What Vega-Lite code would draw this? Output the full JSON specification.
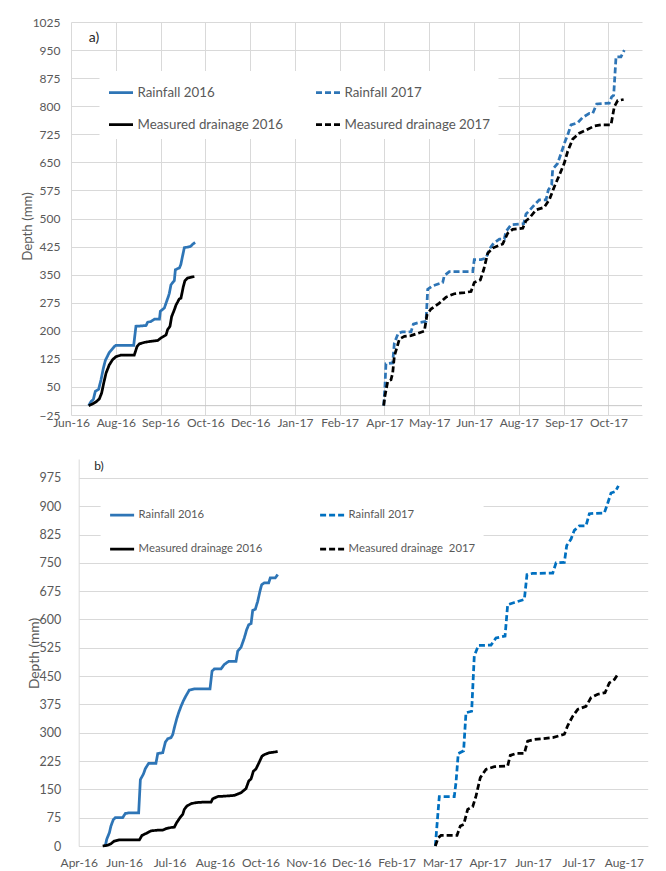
{
  "$schema": "https://vega.github.io/schema/vega-lite/v6.json",
  "padding": {"left": 20, "top": 16, "right": 5, "bottom": 2},
  "config": {
    "view": {"stroke": null},
    "font": "Lato",
    "axis": {"labelFont": "Lato", "labelColor": "#595959", "labelFontSize": 12, "titleFont": "Lato", "titleColor": "#595959", "titleFontWeight": "normal", "gridColor": "#D9D9D9", "gridWidth": 1, "ticks": false, "domainColor": "#D9D9D9", "labelFlush": false, "labelOverlap": false, "tickCount": 40},
    "legend": {"labelFont": "Lato", "labelColor": "#595959"}
  },
  "datasets": {
    "a": [
      {"series":"Rainfall 2016","day":194.8,"depth":0},{"series":"Rainfall 2016","day":196.9,"depth":11},{"series":"Rainfall 2016","day":199,"depth":17},{"series":"Rainfall 2016","day":200.7,"depth":38},{"series":"Rainfall 2016","day":203.7,"depth":44},{"series":"Rainfall 2016","day":205.8,"depth":69},{"series":"Rainfall 2016","day":207.9,"depth":100},{"series":"Rainfall 2016","day":209.7,"depth":121},{"series":"Rainfall 2016","day":213.2,"depth":142},{"series":"Rainfall 2016","day":217.7,"depth":158},{"series":"Rainfall 2016","day":219,"depth":161},{"series":"Rainfall 2016","day":235,"depth":161},{"series":"Rainfall 2016","day":237,"depth":212},{"series":"Rainfall 2016","day":241.5,"depth":213},{"series":"Rainfall 2016","day":246,"depth":214},{"series":"Rainfall 2016","day":247.5,"depth":223},{"series":"Rainfall 2016","day":250.5,"depth":225},{"series":"Rainfall 2016","day":253.5,"depth":231},{"series":"Rainfall 2016","day":258,"depth":231},{"series":"Rainfall 2016","day":258.8,"depth":252},{"series":"Rainfall 2016","day":262.4,"depth":261},{"series":"Rainfall 2016","day":263.9,"depth":274},{"series":"Rainfall 2016","day":266,"depth":292},{"series":"Rainfall 2016","day":266.8,"depth":300},{"series":"Rainfall 2016","day":268.3,"depth":323},{"series":"Rainfall 2016","day":271.3,"depth":334},{"series":"Rainfall 2016","day":272.2,"depth":363},{"series":"Rainfall 2016","day":275.8,"depth":368},{"series":"Rainfall 2016","day":277,"depth":376},{"series":"Rainfall 2016","day":280.2,"depth":422},{"series":"Rainfall 2016","day":285.6,"depth":425},{"series":"Rainfall 2016","day":287.6,"depth":431},{"series":"Rainfall 2016","day":289.8,"depth":436},
      {"series":"Measured drainage 2016","day":194.8,"depth":0},{"series":"Measured drainage 2016","day":198.4,"depth":5},{"series":"Measured drainage 2016","day":201.3,"depth":10},{"series":"Measured drainage 2016","day":204.3,"depth":18},{"series":"Measured drainage 2016","day":206.4,"depth":34},{"series":"Measured drainage 2016","day":208.2,"depth":60},{"series":"Measured drainage 2016","day":210.3,"depth":87},{"series":"Measured drainage 2016","day":213.2,"depth":109},{"series":"Measured drainage 2016","day":216.2,"depth":123},{"series":"Measured drainage 2016","day":219.2,"depth":131},{"series":"Measured drainage 2016","day":223.7,"depth":135},{"series":"Measured drainage 2016","day":235.5,"depth":135},{"series":"Measured drainage 2016","day":238,"depth":158},{"series":"Measured drainage 2016","day":240,"depth":165},{"series":"Measured drainage 2016","day":244.5,"depth":169},{"series":"Measured drainage 2016","day":250.5,"depth":172},{"series":"Measured drainage 2016","day":256.4,"depth":174},{"series":"Measured drainage 2016","day":259.4,"depth":181},{"series":"Measured drainage 2016","day":263.9,"depth":189},{"series":"Measured drainage 2016","day":265.3,"depth":203},{"series":"Measured drainage 2016","day":267.4,"depth":212},{"series":"Measured drainage 2016","day":268.9,"depth":238},{"series":"Measured drainage 2016","day":271.3,"depth":256},{"series":"Measured drainage 2016","day":272.8,"depth":269},{"series":"Measured drainage 2016","day":275.7,"depth":285},{"series":"Measured drainage 2016","day":277.2,"depth":287},{"series":"Measured drainage 2016","day":279.3,"depth":318},{"series":"Measured drainage 2016","day":280.8,"depth":334},{"series":"Measured drainage 2016","day":283.2,"depth":341},{"series":"Measured drainage 2016","day":289.2,"depth":345},
      {"series":"Rainfall 2017","day":458.3,"depth":0},{"series":"Rainfall 2017","day":459.4,"depth":51},{"series":"Rainfall 2017","day":460.3,"depth":112},{"series":"Rainfall 2017","day":466.3,"depth":114},{"series":"Rainfall 2017","day":467.8,"depth":167},{"series":"Rainfall 2017","day":471.3,"depth":194},{"series":"Rainfall 2017","day":475,"depth":197},{"series":"Rainfall 2017","day":482.7,"depth":197},{"series":"Rainfall 2017","day":484.8,"depth":218},{"series":"Rainfall 2017","day":490,"depth":222},{"series":"Rainfall 2017","day":496.1,"depth":225},{"series":"Rainfall 2017","day":497.6,"depth":311},{"series":"Rainfall 2017","day":502,"depth":320},{"series":"Rainfall 2017","day":511,"depth":329},{"series":"Rainfall 2017","day":512.4,"depth":347},{"series":"Rainfall 2017","day":516.9,"depth":358},{"series":"Rainfall 2017","day":537.8,"depth":358},{"series":"Rainfall 2017","day":539.2,"depth":390},{"series":"Rainfall 2017","day":545.2,"depth":390},{"series":"Rainfall 2017","day":549.7,"depth":394},{"series":"Rainfall 2017","day":552.6,"depth":418},{"series":"Rainfall 2017","day":556.5,"depth":434},{"series":"Rainfall 2017","day":561.6,"depth":445},{"series":"Rainfall 2017","day":566,"depth":445},{"series":"Rainfall 2017","day":567.5,"depth":465},{"series":"Rainfall 2017","day":572,"depth":483},{"series":"Rainfall 2017","day":579.5,"depth":485},{"series":"Rainfall 2017","day":583.3,"depth":486},{"series":"Rainfall 2017","day":585.4,"depth":512},{"series":"Rainfall 2017","day":588.4,"depth":521},{"series":"Rainfall 2017","day":592.8,"depth":536},{"series":"Rainfall 2017","day":597.3,"depth":550},{"series":"Rainfall 2017","day":603.3,"depth":550},{"series":"Rainfall 2017","day":605.3,"depth":576},{"series":"Rainfall 2017","day":608.3,"depth":590},{"series":"Rainfall 2017","day":609.2,"depth":631},{"series":"Rainfall 2017","day":613.6,"depth":647},{"series":"Rainfall 2017","day":617.3,"depth":679},{"series":"Rainfall 2017","day":620.2,"depth":705},{"series":"Rainfall 2017","day":622.6,"depth":723},{"series":"Rainfall 2017","day":625.6,"depth":750},{"series":"Rainfall 2017","day":631.6,"depth":756},{"series":"Rainfall 2017","day":636,"depth":770},{"series":"Rainfall 2017","day":642,"depth":781},{"series":"Rainfall 2017","day":645,"depth":781},{"series":"Rainfall 2017","day":648.5,"depth":806},{"series":"Rainfall 2017","day":659.8,"depth":808},{"series":"Rainfall 2017","day":661.9,"depth":825},{"series":"Rainfall 2017","day":663.7,"depth":829},{"series":"Rainfall 2017","day":665.8,"depth":932},{"series":"Rainfall 2017","day":670.2,"depth":932},{"series":"Rainfall 2017","day":673.2,"depth":950},
      {"series":"Measured drainage 2017","day":458.3,"depth":0},{"series":"Measured drainage 2017","day":459.4,"depth":26},{"series":"Measured drainage 2017","day":461.9,"depth":65},{"series":"Measured drainage 2017","day":464.8,"depth":69},{"series":"Measured drainage 2017","day":466.3,"depth":87},{"series":"Measured drainage 2017","day":467.8,"depth":132},{"series":"Measured drainage 2017","day":472.3,"depth":178},{"series":"Measured drainage 2017","day":476.8,"depth":185},{"series":"Measured drainage 2017","day":482.7,"depth":187},{"series":"Measured drainage 2017","day":491.6,"depth":196},{"series":"Measured drainage 2017","day":494.6,"depth":199},{"series":"Measured drainage 2017","day":497,"depth":243},{"series":"Measured drainage 2017","day":500.5,"depth":258},{"series":"Measured drainage 2017","day":508,"depth":274},{"series":"Measured drainage 2017","day":514,"depth":290},{"series":"Measured drainage 2017","day":521.4,"depth":299},{"series":"Measured drainage 2017","day":530.4,"depth":302},{"series":"Measured drainage 2017","day":536.3,"depth":305},{"series":"Measured drainage 2017","day":539.2,"depth":329},{"series":"Measured drainage 2017","day":544.6,"depth":336},{"series":"Measured drainage 2017","day":547.6,"depth":363},{"series":"Measured drainage 2017","day":551.2,"depth":407},{"series":"Measured drainage 2017","day":555.6,"depth":421},{"series":"Measured drainage 2017","day":564.6,"depth":432},{"series":"Measured drainage 2017","day":569.1,"depth":461},{"series":"Measured drainage 2017","day":573.5,"depth":471},{"series":"Measured drainage 2017","day":582.5,"depth":474},{"series":"Measured drainage 2017","day":585.4,"depth":494},{"series":"Measured drainage 2017","day":588.4,"depth":501},{"series":"Measured drainage 2017","day":594.3,"depth":523},{"series":"Measured drainage 2017","day":601.7,"depth":530},{"series":"Measured drainage 2017","day":606.2,"depth":550},{"series":"Measured drainage 2017","day":610.7,"depth":585},{"series":"Measured drainage 2017","day":615.2,"depth":616},{"series":"Measured drainage 2017","day":619.6,"depth":648},{"series":"Measured drainage 2017","day":622.6,"depth":679},{"series":"Measured drainage 2017","day":627.1,"depth":712},{"series":"Measured drainage 2017","day":633,"depth":728},{"series":"Measured drainage 2017","day":639,"depth":736},{"series":"Measured drainage 2017","day":646.4,"depth":747},{"series":"Measured drainage 2017","day":652.4,"depth":750},{"series":"Measured drainage 2017","day":661.3,"depth":750},{"series":"Measured drainage 2017","day":664.3,"depth":799},{"series":"Measured drainage 2017","day":667.3,"depth":815},{"series":"Measured drainage 2017","day":672.6,"depth":818}
    ],
    "b": [
      {"series":"Rainfall 2016","day":141.4,"depth":0},{"series":"Rainfall 2016","day":142.7,"depth":18},{"series":"Rainfall 2016","day":145,"depth":35},{"series":"Rainfall 2016","day":146.4,"depth":53},{"series":"Rainfall 2016","day":148.5,"depth":70},{"series":"Rainfall 2016","day":150.2,"depth":75},{"series":"Rainfall 2016","day":156.7,"depth":75},{"series":"Rainfall 2016","day":159,"depth":86},{"series":"Rainfall 2016","day":162.5,"depth":88},{"series":"Rainfall 2016","day":170.8,"depth":88},{"series":"Rainfall 2016","day":172.3,"depth":176},{"series":"Rainfall 2016","day":174.9,"depth":190},{"series":"Rainfall 2016","day":176.7,"depth":205},{"series":"Rainfall 2016","day":179.6,"depth":219},{"series":"Rainfall 2016","day":186,"depth":219},{"series":"Rainfall 2016","day":187.6,"depth":245},{"series":"Rainfall 2016","day":192,"depth":247},{"series":"Rainfall 2016","day":194.3,"depth":275},{"series":"Rainfall 2016","day":196.4,"depth":284},{"series":"Rainfall 2016","day":199.3,"depth":287},{"series":"Rainfall 2016","day":200.8,"depth":295},{"series":"Rainfall 2016","day":202.2,"depth":313},{"series":"Rainfall 2016","day":204.3,"depth":337},{"series":"Rainfall 2016","day":206,"depth":353},{"series":"Rainfall 2016","day":208.1,"depth":370},{"series":"Rainfall 2016","day":210.4,"depth":386},{"series":"Rainfall 2016","day":212.5,"depth":398},{"series":"Rainfall 2016","day":215.4,"depth":413},{"series":"Rainfall 2016","day":219.8,"depth":416},{"series":"Rainfall 2016","day":233.6,"depth":416},{"series":"Rainfall 2016","day":235.4,"depth":463},{"series":"Rainfall 2016","day":237.4,"depth":469},{"series":"Rainfall 2016","day":243.3,"depth":469},{"series":"Rainfall 2016","day":246.2,"depth":481},{"series":"Rainfall 2016","day":250.1,"depth":489},{"series":"Rainfall 2016","day":256.5,"depth":489},{"series":"Rainfall 2016","day":258,"depth":516},{"series":"Rainfall 2016","day":261,"depth":527},{"series":"Rainfall 2016","day":263.8,"depth":551},{"series":"Rainfall 2016","day":265.9,"depth":573},{"series":"Rainfall 2016","day":267.7,"depth":586},{"series":"Rainfall 2016","day":269.8,"depth":589},{"series":"Rainfall 2016","day":271.2,"depth":624},{"series":"Rainfall 2016","day":273.5,"depth":627},{"series":"Rainfall 2016","day":275.6,"depth":648},{"series":"Rainfall 2016","day":277.6,"depth":675},{"series":"Rainfall 2016","day":279.1,"depth":692},{"series":"Rainfall 2016","day":281.4,"depth":697},{"series":"Rainfall 2016","day":285.3,"depth":697},{"series":"Rainfall 2016","day":286.7,"depth":710},{"series":"Rainfall 2016","day":291.1,"depth":710},{"series":"Rainfall 2016","day":293.2,"depth":719},
      {"series":"Measured drainage 2016","day":139.1,"depth":0},{"series":"Measured drainage 2016","day":143.5,"depth":2},{"series":"Measured drainage 2016","day":146.4,"depth":6},{"series":"Measured drainage 2016","day":149.3,"depth":13},{"series":"Measured drainage 2016","day":153.7,"depth":16},{"series":"Measured drainage 2016","day":171.4,"depth":16},{"series":"Measured drainage 2016","day":173.7,"depth":28},{"series":"Measured drainage 2016","day":177.2,"depth":33},{"series":"Measured drainage 2016","day":181.7,"depth":40},{"series":"Measured drainage 2016","day":187.6,"depth":42},{"series":"Measured drainage 2016","day":192,"depth":42},{"series":"Measured drainage 2016","day":194.9,"depth":46},{"series":"Measured drainage 2016","day":199.3,"depth":49},{"series":"Measured drainage 2016","day":202.2,"depth":50},{"series":"Measured drainage 2016","day":204.3,"depth":62},{"series":"Measured drainage 2016","day":207.2,"depth":75},{"series":"Measured drainage 2016","day":209.6,"depth":84},{"series":"Measured drainage 2016","day":211,"depth":97},{"series":"Measured drainage 2016","day":213.3,"depth":106},{"series":"Measured drainage 2016","day":216.9,"depth":112},{"series":"Measured drainage 2016","day":221.3,"depth":115},{"series":"Measured drainage 2016","day":227.2,"depth":116},{"series":"Measured drainage 2016","day":234.5,"depth":116},{"series":"Measured drainage 2016","day":236,"depth":125},{"series":"Measured drainage 2016","day":240.4,"depth":131},{"series":"Measured drainage 2016","day":246.2,"depth":132},{"series":"Measured drainage 2016","day":255,"depth":134},{"series":"Measured drainage 2016","day":260.9,"depth":141},{"series":"Measured drainage 2016","day":265.3,"depth":152},{"series":"Measured drainage 2016","day":267.7,"depth":172},{"series":"Measured drainage 2016","day":269.8,"depth":178},{"series":"Measured drainage 2016","day":271.8,"depth":198},{"series":"Measured drainage 2016","day":274.1,"depth":204},{"series":"Measured drainage 2016","day":276.5,"depth":219},{"series":"Measured drainage 2016","day":279.4,"depth":238},{"series":"Measured drainage 2016","day":281.4,"depth":242},{"series":"Measured drainage 2016","day":285.8,"depth":247},{"series":"Measured drainage 2016","day":293.2,"depth":250},
      {"series":"Rainfall 2017","day":432,"depth":0},{"series":"Rainfall 2017","day":434.1,"depth":79},{"series":"Rainfall 2017","day":435.5,"depth":131},{"series":"Rainfall 2017","day":448.7,"depth":131},{"series":"Rainfall 2017","day":450.2,"depth":168},{"series":"Rainfall 2017","day":452.2,"depth":245},{"series":"Rainfall 2017","day":456.9,"depth":252},{"series":"Rainfall 2017","day":459,"depth":353},{"series":"Rainfall 2017","day":464,"depth":357},{"series":"Rainfall 2017","day":466.3,"depth":503},{"series":"Rainfall 2017","day":469.9,"depth":531},{"series":"Rainfall 2017","day":481,"depth":532},{"series":"Rainfall 2017","day":485.4,"depth":551},{"series":"Rainfall 2017","day":493.4,"depth":556},{"series":"Rainfall 2017","day":495.7,"depth":639},{"series":"Rainfall 2017","day":501.6,"depth":645},{"series":"Rainfall 2017","day":510.4,"depth":653},{"series":"Rainfall 2017","day":512.7,"depth":719},{"series":"Rainfall 2017","day":517.7,"depth":722},{"series":"Rainfall 2017","day":535.4,"depth":723},{"series":"Rainfall 2017","day":538.3,"depth":750},{"series":"Rainfall 2017","day":545.6,"depth":751},{"series":"Rainfall 2017","day":547.7,"depth":796},{"series":"Rainfall 2017","day":551.5,"depth":813},{"series":"Rainfall 2017","day":554.4,"depth":836},{"series":"Rainfall 2017","day":558.8,"depth":848},{"series":"Rainfall 2017","day":564.7,"depth":848},{"series":"Rainfall 2017","day":567.6,"depth":880},{"series":"Rainfall 2017","day":572,"depth":881},{"series":"Rainfall 2017","day":580.8,"depth":882},{"series":"Rainfall 2017","day":583.8,"depth":908},{"series":"Rainfall 2017","day":586.7,"depth":935},{"series":"Rainfall 2017","day":590.5,"depth":939},{"series":"Rainfall 2017","day":593.2,"depth":954},
      {"series":"Measured drainage 2017","day":432,"depth":0},{"series":"Measured drainage 2017","day":434.6,"depth":22},{"series":"Measured drainage 2017","day":437,"depth":28},{"series":"Measured drainage 2017","day":451.1,"depth":28},{"series":"Measured drainage 2017","day":454,"depth":53},{"series":"Measured drainage 2017","day":457,"depth":57},{"series":"Measured drainage 2017","day":460.5,"depth":97},{"series":"Measured drainage 2017","day":464.9,"depth":104},{"series":"Measured drainage 2017","day":467.8,"depth":132},{"series":"Measured drainage 2017","day":471.6,"depth":181},{"series":"Measured drainage 2017","day":476.6,"depth":203},{"series":"Measured drainage 2017","day":484,"depth":210},{"series":"Measured drainage 2017","day":495.7,"depth":212},{"series":"Measured drainage 2017","day":498,"depth":240},{"series":"Measured drainage 2017","day":503,"depth":245},{"series":"Measured drainage 2017","day":510.4,"depth":245},{"series":"Measured drainage 2017","day":513.3,"depth":278},{"series":"Measured drainage 2017","day":519.2,"depth":282},{"series":"Measured drainage 2017","day":535.4,"depth":287},{"series":"Measured drainage 2017","day":545.6,"depth":296},{"series":"Measured drainage 2017","day":548.6,"depth":319},{"series":"Measured drainage 2017","day":553,"depth":344},{"series":"Measured drainage 2017","day":557.4,"depth":362},{"series":"Measured drainage 2017","day":564.7,"depth":370},{"series":"Measured drainage 2017","day":569.1,"depth":393},{"series":"Measured drainage 2017","day":575,"depth":402},{"series":"Measured drainage 2017","day":581.4,"depth":406},{"series":"Measured drainage 2017","day":585.2,"depth":432},{"series":"Measured drainage 2017","day":589.7,"depth":441},{"series":"Measured drainage 2017","day":593.2,"depth":457}
    ]
  },
  "bounds": "flush",
  "spacing": 44,
  "resolve": {"scale": {"x": "independent", "y": "independent", "color": "independent", "strokeDash": "independent"}, "legend": {"color": "independent", "strokeDash": "independent"}},
  "vconcat": [
    {
      "width": 571,
      "height": 393,
      "data": {"name": "a"},
      "layer": [
        {
          "data": {"values": [{}]},
          "mark": {"type": "rule", "color": "#C6C6C6", "strokeWidth": 1},
          "encoding": {"y": {"datum": 0}}
        },
        {
          "mark": {"type": "line", "strokeWidth": 2.75},
          "encoding": {
            "x": {"field": "day", "type": "quantitative", "scale": {"domain": [179, 689], "nice": false, "zero": false},
              "axis": {"values": [179, 219, 259, 299, 339, 379, 419, 459, 499, 539, 579, 619, 659], "tickCount": 40, "labelExpr": "timeFormat(datetime(2016, 0, 1 + datum.value), '%b-%y')", "grid": true, "domain": false, "title": null, "labelPadding": 2, "labelOverlap": false}},
            "y": {"field": "depth", "type": "quantitative", "scale": {"domain": [-25, 1025], "nice": false, "zero": false},
              "axis": {"values": [-25, 50, 125, 200, 275, 350, 425, 500, 575, 650, 725, 800, 875, 950, 1025], "tickCount": 40, "format": "d", "grid": true, "domain": false, "labelOverlap": false, "title": "Depth (mm)", "titleFontSize": 13.3, "titleX": -43.5, "titleY": 204, "titleAngle": -90, "titleAlign": "center", "titleBaseline": "middle", "labelPadding": 11}},
            "color": {"field": "series", "type": "nominal",
              "scale": {"domain": ["Rainfall 2016", "Rainfall 2017", "Measured drainage 2016", "Measured drainage 2017"], "range": ["#2E75B6", "#2E75B6", "#000000", "#000000"]},
              "legend": {"orient": "none", "legendX": 28.5, "legendY": 49, "direction": "horizontal", "columns": 2, "title": null, "symbolType": "stroke", "symbolSize": 576, "symbolStrokeWidth": 2.75, "labelFontSize": 13.3, "labelOffset": 3, "columnPadding": 27, "rowPadding": 12, "padding": 8, "fillColor": "white", "labelLimit": 300}},
            "strokeDash": {"field": "series", "type": "nominal",
              "scale": {"domain": ["Rainfall 2016", "Rainfall 2017", "Measured drainage 2016", "Measured drainage 2017"], "range": [[1, 0], [6, 3], [1, 0], [6, 3]]},
              "legend": {"orient": "none", "legendX": 28.5, "legendY": 49, "direction": "horizontal", "columns": 2, "title": null, "symbolType": "stroke", "symbolSize": 576, "symbolStrokeWidth": 2.75, "labelFontSize": 13.3, "labelOffset": 3, "columnPadding": 27, "rowPadding": 12, "padding": 8, "fillColor": "white", "labelLimit": 300}}
          }
        },
        {
          "data": {"values": [{}]},
          "mark": {"type": "text", "fontSize": 14, "color": "#262626", "font": "Lato", "align": "center", "baseline": "middle"},
          "encoding": {"x": {"datum": 199.5}, "y": {"datum": 982}, "text": {"value": "a)"}}
        }
      ]
    },
    {
      "hconcat": [
        {"width": 1, "height": 1, "data": {"values": [{}]}, "mark": {"type": "point", "opacity": 0}},
        {
          "width": 569,
          "height": 387,
          "data": {"name": "b"},
          "layer": [
            {
              "mark": {"type": "line", "strokeWidth": 2.75},
              "encoding": {
                "x": {"field": "day", "type": "quantitative", "scale": {"domain": [118, 619], "nice": false, "zero": false},
                  "axis": {"values": [118, 158, 198, 238, 278, 318, 358, 398, 438, 478, 518, 558, 598], "tickCount": 40, "labelExpr": "timeFormat(datetime(2016, 0, 1 + datum.value), '%b-%y')", "grid": false, "domain": true, "title": null, "labelPadding": 11, "labelOverlap": false}},
                "y": {"field": "depth", "type": "quantitative", "scale": {"domain": [0, 1025], "nice": false, "zero": false},
                  "axis": {"values": [0, 75, 150, 225, 300, 375, 450, 525, 600, 675, 750, 825, 900, 975], "tickCount": 40, "format": "d", "grid": true, "domain": true, "labelOverlap": false, "labelFontSize": 12.5, "title": "Depth (mm)", "titleFontSize": 13.8, "titleX": -44.5, "titleY": 194, "titleAngle": -90, "titleAlign": "center", "titleBaseline": "middle", "labelPadding": 18}},
                "color": {"field": "series", "type": "nominal",
                  "scale": {"domain": ["Rainfall 2016", "Rainfall 2017", "Measured drainage 2016", "Measured drainage 2017"], "range": ["#2E75B6", "#0070C0", "#000000", "#000000"]},
                  "legend": {"orient": "none", "legendX": 29.6, "legendY": 34.7, "direction": "horizontal", "columns": 2, "title": null, "symbolType": "stroke", "symbolSize": 576, "symbolStrokeWidth": 2.75, "labelFontSize": 11.3, "labelOffset": 3, "columnPadding": 52, "rowPadding": 15, "padding": 8, "fillColor": "white", "labelLimit": 300, "labelExpr": "datum.label == 'Measured drainage 2017' ? 'Measured drainage\u00a0 2017' : datum.label"}},
                "strokeDash": {"field": "series", "type": "nominal",
                  "scale": {"domain": ["Rainfall 2016", "Rainfall 2017", "Measured drainage 2016", "Measured drainage 2017"], "range": [[1, 0], [6, 3], [1, 0], [6, 3]]},
                  "legend": {"orient": "none", "legendX": 29.6, "legendY": 34.7, "direction": "horizontal", "columns": 2, "title": null, "symbolType": "stroke", "symbolSize": 576, "symbolStrokeWidth": 2.75, "labelFontSize": 11.3, "labelOffset": 3, "columnPadding": 52, "rowPadding": 15, "padding": 8, "fillColor": "white", "labelLimit": 300, "labelExpr": "datum.label == 'Measured drainage 2017' ? 'Measured drainage\u00a0 2017' : datum.label"}}
              }
            },
            {
              "data": {"values": [{}]},
              "mark": {"type": "text", "fontSize": 12, "color": "#262626", "font": "Lato", "align": "center", "baseline": "middle"},
              "encoding": {"x": {"datum": 135.9}, "y": {"datum": 1007}, "text": {"value": "b)"}}
            }
          ]
        }
      ],
      "spacing": 6.7,
      "bounds": "flush"
    }
  ]
}
